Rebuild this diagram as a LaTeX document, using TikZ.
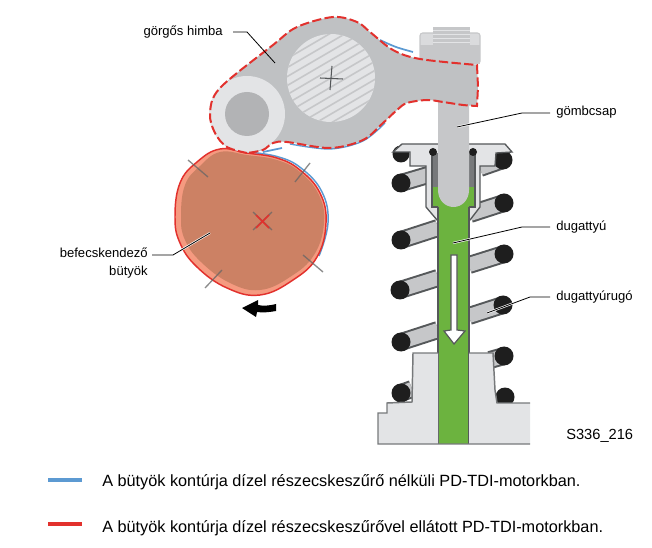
\documentclass[tikz,border=0pt]{standalone}
\usepackage{fontspec}
\setmainfont{Liberation Sans}
\definecolor{rock}{HTML}{BFC1C3}
\definecolor{lgray}{HTML}{E3E4E6}
\definecolor{mgray}{HTML}{C6C7C9}
\definecolor{dgray}{HTML}{55585A}
\definecolor{gr}{HTML}{6CB33F}
\definecolor{cam}{HTML}{CC8164}
\definecolor{camlight}{HTML}{F59A80}
\definecolor{rd}{HTML}{E2312D}
\definecolor{bl}{HTML}{5C9AD2}
\definecolor{coil}{HTML}{1E1E1E}
\tikzset{
 lab/.style={font=\fontsize{9.8}{11}\selectfont,inner sep=0pt},
 legend/.style={font=\fontsize{12.2}{14}\selectfont,inner sep=0pt,anchor=base west},
 lead/.style={draw=black,line width=0.6pt},
 halo/.style={draw=white,line width=1.6pt},
 legline/.style={line width=3.6pt},
 barout/.style={draw=dgray,line width=13.5pt},
 barin/.style={draw=mgray,line width=10.5pt},
 ball/.style={fill=coil,draw=none},
 tick/.style={draw=gray!80!black,line width=1pt,opacity=.75},
 rdash/.style={draw=rd,line width=1.5pt,dash pattern=on 7pt off 2.5pt}
}
\newcommand{\coilbar}[4]{\draw[barout] (#1,#2) -- (#3,#4); \draw[barin] (#1,#2) -- (#3,#4);}
\begin{document}
\begin{tikzpicture}[x=0.75pt,y=-0.75pt]
\useasboundingbox (0,0) rectangle (652,548);
% spring bars
\coilbar{401}{183}{428}{175}
\coilbar{401}{240}{438}{228}
\coilbar{400}{290}{438}{278}
\coilbar{401}{342}{438}{330}
\coilbar{504}{203}{470}{214}
\coilbar{504}{254}{469}{265}
\coilbar{503}{305}{469}{316}
\coilbar{503}{160}{480}{168}
\coilbar{504}{356}{490}{360}
\coilbar{401}{393}{412}{389}
% coil ends
\foreach \x/\y/\r in {401/154/8.5,401/183/9.5,401/240/9.5,400/290/9.5,401/342/9.5,401/393/9.5,503/160/9.5,504/203/9.5,504/254/9.5,503/305/9.5,504/356/9.5,505/397/9.5}
  \fill[ball] (\x,\y) circle (\r);
% retainer
\draw[fill=lgray,draw=dgray,line width=1pt] (393,152) -- (402,144) -- (505,144) -- (512,152) -- (496,153) -- (495,166) -- (480,166) -- (480,207) -- (470,220) -- (437,220) -- (426,207) -- (426,166) -- (410,166) -- (410,152) -- cycle;
% sleeve
\fill[dgray!70!mgray] (432,153) rectangle (475,187);
\fill[gr] (432,187) rectangle (475,207);
\draw[dgray,line width=.8pt] (432,153) -- (432,207) -- (475,207) -- (475,153);
\fill[ball] (433,152) circle (4);
\fill[ball] (473,152) circle (4);
% piston
\fill[gr] (438,205) rectangle (469,444);
\draw[dgray,line width=1.1pt] (438,207) -- (438,444);
\draw[dgray,line width=1.1pt] (469,207) -- (469,444);
% base
\draw[fill=lgray,draw=none] (413,353) -- (438,353) -- (438,444) -- (378,444) -- (378,413) -- (387,413) -- (387,403) -- (412,402) -- cycle;
\draw[fill=lgray,draw=none] (469,353) -- (493,353) -- (495,390) -- (497,403) -- (530,403) -- (530,444) -- (469,444) -- cycle;
\draw[dgray!80,line width=1.1pt] (438,353) -- (413,353) -- (412,402) -- (387,403) -- (387,413) -- (378,413) -- (378,444) -- (530,444);
\draw[dgray!80,line width=1.1pt] (469,353) -- (493,353) -- (495,390) -- (497,403) -- (530,403);
\fill[gr] (439,353) rectangle (468,443);
% white arrow
\draw[fill=white,draw=dgray,line width=.9pt] (451,255) -- (457,255) -- (457,330) -- (465,331) -- (454,344) -- (444,331) -- (451,330) -- cycle;
% pin
\fill[mgray] (438,100) -- (469,100) -- (469,190) .. controls (469,200) and (462,207) .. (453.5,207) .. controls (445,207) and (438,200) .. (438,190) -- cycle;
% bolt
\draw[fill=lgray!70!mgray,draw=mgray,line width=.8pt,rounded corners=2pt] (420,33) rectangle (480,64);
\fill[mgray] (433,27) rectangle (470,48);
\foreach \y in {30,34,38,42,46} \draw[lgray,line width=.5pt] (433,\y) -- (470,\y);
\fill[mgray] (420,45) rectangle (480,64);
% cam
\path[fill=camlight,draw=none] plot[smooth cycle,tension=.7] coordinates {(175,217)(180,183)(197,162)(220,149)(247,153)(277,158)(300,170)(320,193)(326,223)(317,257)(293,280)(260,295)(227,288)(197,267)(180,243)} ;
\path[fill=cam,draw=none] plot[smooth cycle,tension=.7] coordinates {(181,217)(185,185)(200,166)(220,152)(247,155)(277,160)(300,172)(319,195)(324,223)(314,255)(290,277)(260,290)(230,283)(201,262)(185,240)};
\draw[bl,line width=1.1pt] plot[smooth,tension=.7] coordinates {(247,152)(277,156.5)(301,168)(322,192)(328,223)(319,256)};
\draw[rd,line width=1.1pt] plot[smooth cycle,tension=.7] coordinates {(175,217)(180,183)(197,162)(220,149)(247,153)(277,158)(300,170)(320,193)(326,223)(317,257)(293,280)(260,295)(227,288)(197,267)(180,243)};
% cam ticks
\draw[tick] (188,160) -- (208,177);
\draw[tick] (310,163) -- (295,182);
\draw[tick] (303,255) -- (323,272);
\draw[tick] (222,270) -- (205,288);
\draw[tick] (253,212) -- (272,230);
\draw[tick] (272,212) -- (253,230);
\draw[rd,line width=1.2pt] (256,215) -- (269,228);
\draw[rd,line width=1.2pt] (269,215) -- (256,228);
% rotation arrow
\fill[black] (276,304) .. controls (268,306) and (263,306) .. (258,305) -- (258,300) -- (242,308) -- (256,317) -- (257,312) .. controls (263,313) and (270,312) .. (276,311) -- cycle;
% rocker
\fill[rock] plot[smooth,tension=.55] coordinates {(247,153)(227,147)(215,133)(210,113)(220,88)(273,45)(297,27)(333,17)(357,22)(370,32)(393,50)(420,59)(477,65)} -- (478,87) -- plot[smooth,tension=.55] coordinates {(477,106)(463,105)(443,102)(427,100)(407,103)(397,110)(383,123)(363,140)(330,148)(287,142)(273,143)(263,150)(247,153)} -- cycle;
\fill[lgray] (331,78) circle (44);
\begin{scope}
 \clip (331,78) circle (44);
 \foreach \i in {-10,...,10} \draw[mgray,line width=1.2pt,shift={(331,78)}] (-60,{\i*9+35}) -- (60,{\i*9-35});
\end{scope}
\draw[dgray,line width=.8pt] (320,78) -- (343,79);
\draw[dgray,line width=.8pt] (332,66) -- (330,90);
\fill[lgray] (247,114) circle (38);
\fill[mgray!90!black] (247,114) circle (22);
% contour
\draw[bl,line width=1.3pt] plot[smooth,tension=.55] coordinates {(380,40)(396,47)(413,52)};
\draw[bl,line width=1.3pt] (263,152) -- (282,148);
\draw[bl,line width=1pt] plot[smooth,tension=.55] coordinates {(290,144)(330,149)(363,141)(385,123)};
\draw[rdash] plot[smooth,tension=.55] coordinates {(247,153)(227,147)(215,133)(210,113)(220,88)(273,45)(297,27)(333,17)(357,22)(370,32)(393,50)(420,59)(477,65)} -- (478,87) -- plot[smooth,tension=.55] coordinates {(477,106)(463,105)(443,102)(427,100)(407,103)(397,110)(383,123)(363,140)(330,148)(287,142)(273,143)(263,150)(247,153)};
% labels
\node[lab,anchor=east] (lhimba) at (223,32) {görgős himba};
\node[lab,anchor=west] (lcsap) at (556,112) {gömbcsap};
\node[lab,anchor=west] (ldug) at (556,227) {dugattyú};
\node[lab,anchor=west] (lrugo) at (556,297) {dugattyúrugó};
\node[lab,anchor=east,align=right] (lcam) at (148,263) {befecskendező\\[2pt]bütyök};
\node[lab,anchor=base west] (lcode) at (566,439) {\fontsize{11}{13}\selectfont S336\_216};
% leader ends
\coordinate (ehimba) at (275,63);
\coordinate (ecsap) at (457,127);
\coordinate (edug) at (453,243);
\coordinate (erugo) at (487,313);
\coordinate (ecam) at (210,233);
\draw[lead] (lhimba.east) ++(10,0) -- ++(14,0) -- (ehimba);
\draw[halo] (522,113) -- (ecsap);
\draw[lead] (lcsap.west) ++(-6,1) -- (522,113) -- (ecsap);
\draw[halo] (522,227) -- (edug);
\draw[lead] (ldug.west) ++(-6,0) -- (522,227) -- (edug);
\draw[halo] (530,297) -- (erugo);
\draw[lead] (lrugo.west) ++(-6,0) -- (530,297) -- (erugo);
\draw[halo] (177,252.5) -- (ecam);
\draw[lead] (152,255) -- (173,255) -- (ecam);
% legend
\coordinate (b1) at (48,480); \coordinate (b2) at (82,480);
\coordinate (r1) at (48,524); \coordinate (r2) at (82,524);
\draw[bl,legline] (b1) -- (b2);
\draw[rd,legline] (r1) -- (r2);
\node[legend] (t1) at (102,486) {A bütyök kontúrja dízel részecskeszűrő nélküli PD-TDI-motorkban.};
\node[legend] (t2) at (102,532) {A bütyök kontúrja dízel részecskeszűrővel ellátott PD-TDI-motorkban.};
\end{tikzpicture}
\end{document}
